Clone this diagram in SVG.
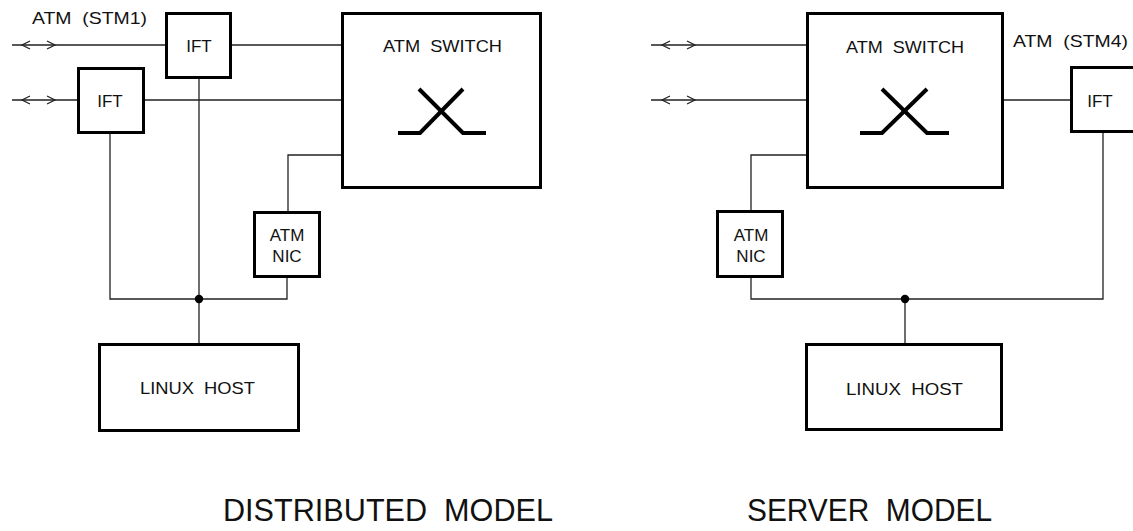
<svg xmlns="http://www.w3.org/2000/svg" width="1133" height="531" viewBox="0 0 1133 531" xml:space="preserve">
<style>
.box{fill:#fff;stroke:#000;stroke-width:3}
.ln{fill:none;stroke:#222;stroke-width:1.3}
.sym{fill:none;stroke:#000;stroke-width:4;stroke-linejoin:miter}
text{white-space:pre}
.t{font-family:"Liberation Sans",Arial,sans-serif;font-size:17px;fill:#111}
.c{text-anchor:middle}
.big{font-family:"Liberation Sans",Arial,sans-serif;font-size:31px;fill:#111}
</style>
<rect width="1133" height="531" fill="#fff"/>
<g id="connectors">
<path class="ln" d="M12,45H165M232,45H341M12,100H77M145,100H341M341,155H288V211M199,79V343M110,134V299H287V278"/>
<path class="ln" d="M30,41L22,45L30,49M47,41L55,45L47,49M30,96L22,100L30,104M47,96L55,100L47,104"/>
<path class="ln" d="M651,45H806M651,100H806M1004,100H1070M806,155H751V210M751,278V299H1103V133M905,299V343"/>
<path class="ln" d="M670,41L662,45L670,49M687,41L695,45L687,49M670,96L662,100L670,104M687,96L695,100L687,104"/>
<circle cx="199" cy="299" r="4.2" fill="#000"/>
<circle cx="905" cy="299" r="4.2" fill="#000"/>
</g>
<text class="t" x="32" y="24" textLength="115" lengthAdjust="spacingAndGlyphs">ATM  (STM1)</text>
<g id="ift1"><rect class="box" x="166.5" y="13.5" width="64" height="64"/><text class="t c" x="199" y="52">IFT</text></g>
<g id="ift2"><rect class="box" x="78.5" y="68.5" width="65" height="64"/><text class="t c" x="110" y="107">IFT</text></g>
<g id="switch1"><rect class="box" x="342.5" y="13.5" width="198" height="174"/>
<text class="t" x="383" y="52" textLength="119" lengthAdjust="spacingAndGlyphs">ATM  SWITCH</text>
<polyline class="sym" points="398,133 420,133 463,89"/><polyline class="sym" points="419,89 463,133 486,133"/></g>
<g id="nic1"><rect class="box" x="254.5" y="212.5" width="65" height="64"/><text class="t c" x="287" y="241">ATM</text><text class="t c" x="287" y="262">NIC</text></g>
<g id="host1"><rect class="box" x="99.5" y="344.5" width="199" height="86"/><text class="t" x="140" y="394" textLength="115" lengthAdjust="spacingAndGlyphs">LINUX  HOST</text></g>
<g id="switch2"><rect class="box" x="807.5" y="13.5" width="195" height="174"/>
<text class="t" x="846" y="53" textLength="118" lengthAdjust="spacingAndGlyphs">ATM  SWITCH</text>
<polyline class="sym" points="860,133 882,133 927,89"/><polyline class="sym" points="882,89 927,133 949,133"/></g>
<text class="t" x="1013" y="47" textLength="115" lengthAdjust="spacingAndGlyphs">ATM  (STM4)</text>
<g id="ift3"><rect class="box" x="1071.5" y="67.5" width="65" height="64"/><text class="t c" x="1100" y="107">IFT</text></g>
<g id="nic2"><rect class="box" x="717.5" y="211.5" width="65" height="65"/><text class="t c" x="751" y="241">ATM</text><text class="t c" x="751" y="262">NIC</text></g>
<g id="host2"><rect class="box" x="806.5" y="344.5" width="195" height="85"/><text class="t" x="846" y="395" textLength="117" lengthAdjust="spacingAndGlyphs">LINUX  HOST</text></g>
<text class="big" x="223" y="521" textLength="330" lengthAdjust="spacingAndGlyphs">DISTRIBUTED  MODEL</text>
<text class="big" x="747" y="521" textLength="245" lengthAdjust="spacingAndGlyphs">SERVER  MODEL</text>
</svg>
